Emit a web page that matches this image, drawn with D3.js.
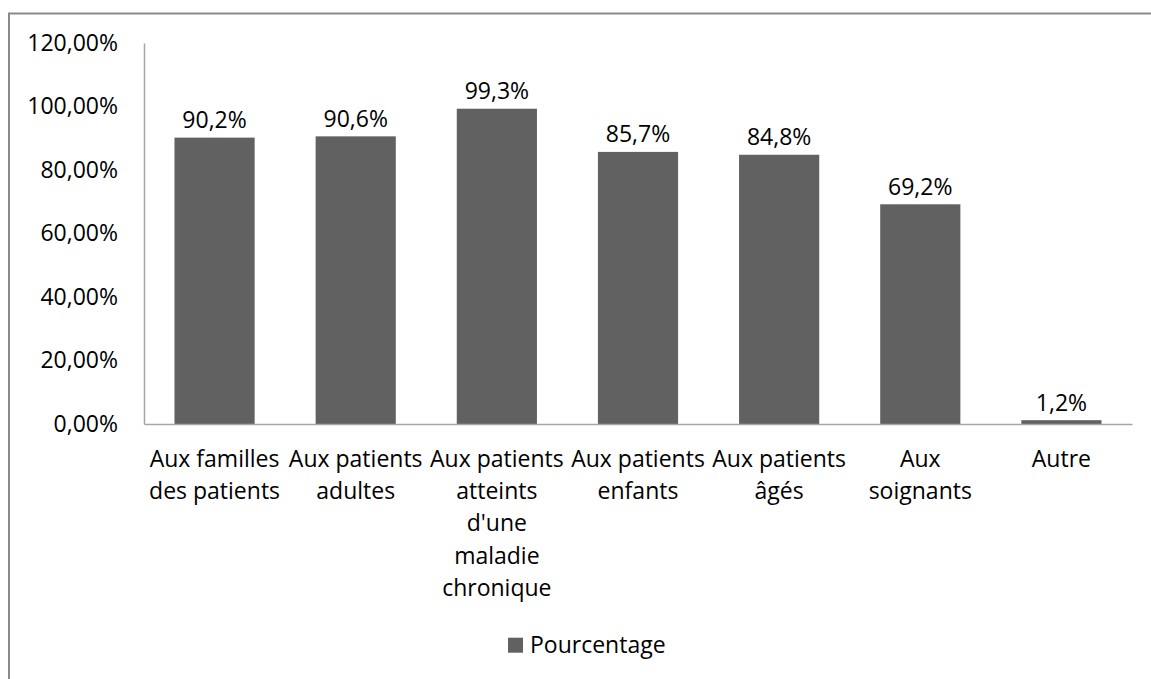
<!DOCTYPE html>
<html>
<head>
<meta charset="utf-8">
<script src="https://cdn.jsdelivr.net/npm/d3@7"></script>
<style>
  html, body { margin: 0; padding: 0; background: #ffffff; }
  svg { display: block; font-family: "Open Sans", "Noto Sans", sans-serif; }
</style>
</head>
<body>
<svg id="chart" width="1151" height="679"></svg>
<script>
// ---- data ----
const categories = [
  "Aux familles\ndes patients",
  "Aux patients\nadultes",
  "Aux patients\natteints\nd'une\nmaladie\nchronique",
  "Aux patients\nenfants",
  "Aux patients\nâgés",
  "Aux\nsoignants",
  "Autre"
];
const values = [0.902, 0.906, 0.993, 0.857, 0.848, 0.692, 0.012];
const seriesName = "Pourcentage";
const yTicks = [0, 0.2, 0.4, 0.6, 0.8, 1.0, 1.2];

// ---- setup ----
const W = 1151, H = 679;
const svg = d3.select("#chart");
const fr = d3.formatLocale({decimal: ",", thousands: "\u00a0", grouping: [3], currency: ["", " €"]});
const fmtTick = fr.format(".2%");
const fmtVal = fr.format(".1%");

const barColor = "#616161";
const axisColor = "#a6a6a6";
const textColor = "#000000";
const fontSize = 23;

// outer frame (extends past the visible area on right/bottom)
svg.append("rect")
  .attr("x", 9).attr("y", 13.5)
  .attr("width", 1300).attr("height", 800)
  .attr("fill", "none")
  .attr("stroke", "#898989")
  .attr("stroke-width", 2);

const plot = {left: 144, right: 1132, top: 43, bottom: 424};

const x = d3.scaleBand()
  .domain(d3.range(categories.length))
  .range([plot.left, plot.right])
  .paddingInner(0.432)
  .paddingOuter(0.216);

const y = d3.scaleLinear()
  .domain([0, 1.2])
  .range([plot.bottom, plot.top]);

// y axis
const yAxis = d3.axisLeft(y)
  .tickValues(yTicks)
  .tickSize(0)
  .tickPadding(26)
  .tickFormat(fmtTick);

const gy = svg.append("g")
  .attr("transform", `translate(${plot.left},0)`)
  .call(yAxis);
gy.select(".domain").attr("stroke", axisColor).attr("stroke-width", 1.5);
gy.selectAll("text")
  .attr("font-size", fontSize)
  .attr("font-family", "'Open Sans', sans-serif")
  .attr("fill", textColor);

// bars
svg.append("g").selectAll("rect")
  .data(values)
  .join("rect")
  .attr("x", (d, i) => x(i))
  .attr("y", d => y(d))
  .attr("width", x.bandwidth())
  .attr("height", d => y(0) - y(d))
  .attr("fill", barColor);

// x axis line
const xAxis = d3.axisBottom(x).tickSize(0).tickFormat("");
const gx = svg.append("g")
  .attr("transform", `translate(0,${plot.bottom})`)
  .call(xAxis);
gx.select(".domain").attr("stroke", axisColor).attr("stroke-width", 1.5);

// value labels
svg.append("g").selectAll("text")
  .data(values)
  .join("text")
  .attr("x", (d, i) => x(i) + x.bandwidth() / 2)
  .attr("y", d => y(d) - 9.5)
  .attr("text-anchor", "middle")
  .attr("font-size", fontSize)
  .attr("fill", textColor)
  .text(d => fmtVal(d));

// category labels
const lineH = 32.3;
const catG = svg.append("g");
categories.forEach((c, i) => {
  const t = catG.append("text")
    .attr("x", x(i) + x.bandwidth() / 2)
    .attr("y", plot.bottom + 42.7)
    .attr("text-anchor", "middle")
    .attr("font-size", fontSize)
    .attr("fill", textColor);
  c.split("\n").forEach((line, j) => {
    t.append("tspan")
      .attr("x", x(i) + x.bandwidth() / 2)
      .attr("dy", j === 0 ? 0 : lineH)
      .text(line);
  });
});

// legend
const leg = svg.append("g").attr("transform", "translate(508,637.7)");
leg.append("rect").attr("width", 15).attr("height", 15).attr("fill", barColor);
leg.append("text")
  .attr("x", 22).attr("y", 15)
  .attr("font-size", fontSize)
  .attr("fill", textColor)
  .text(seriesName);
</script>
</body>
</html>
